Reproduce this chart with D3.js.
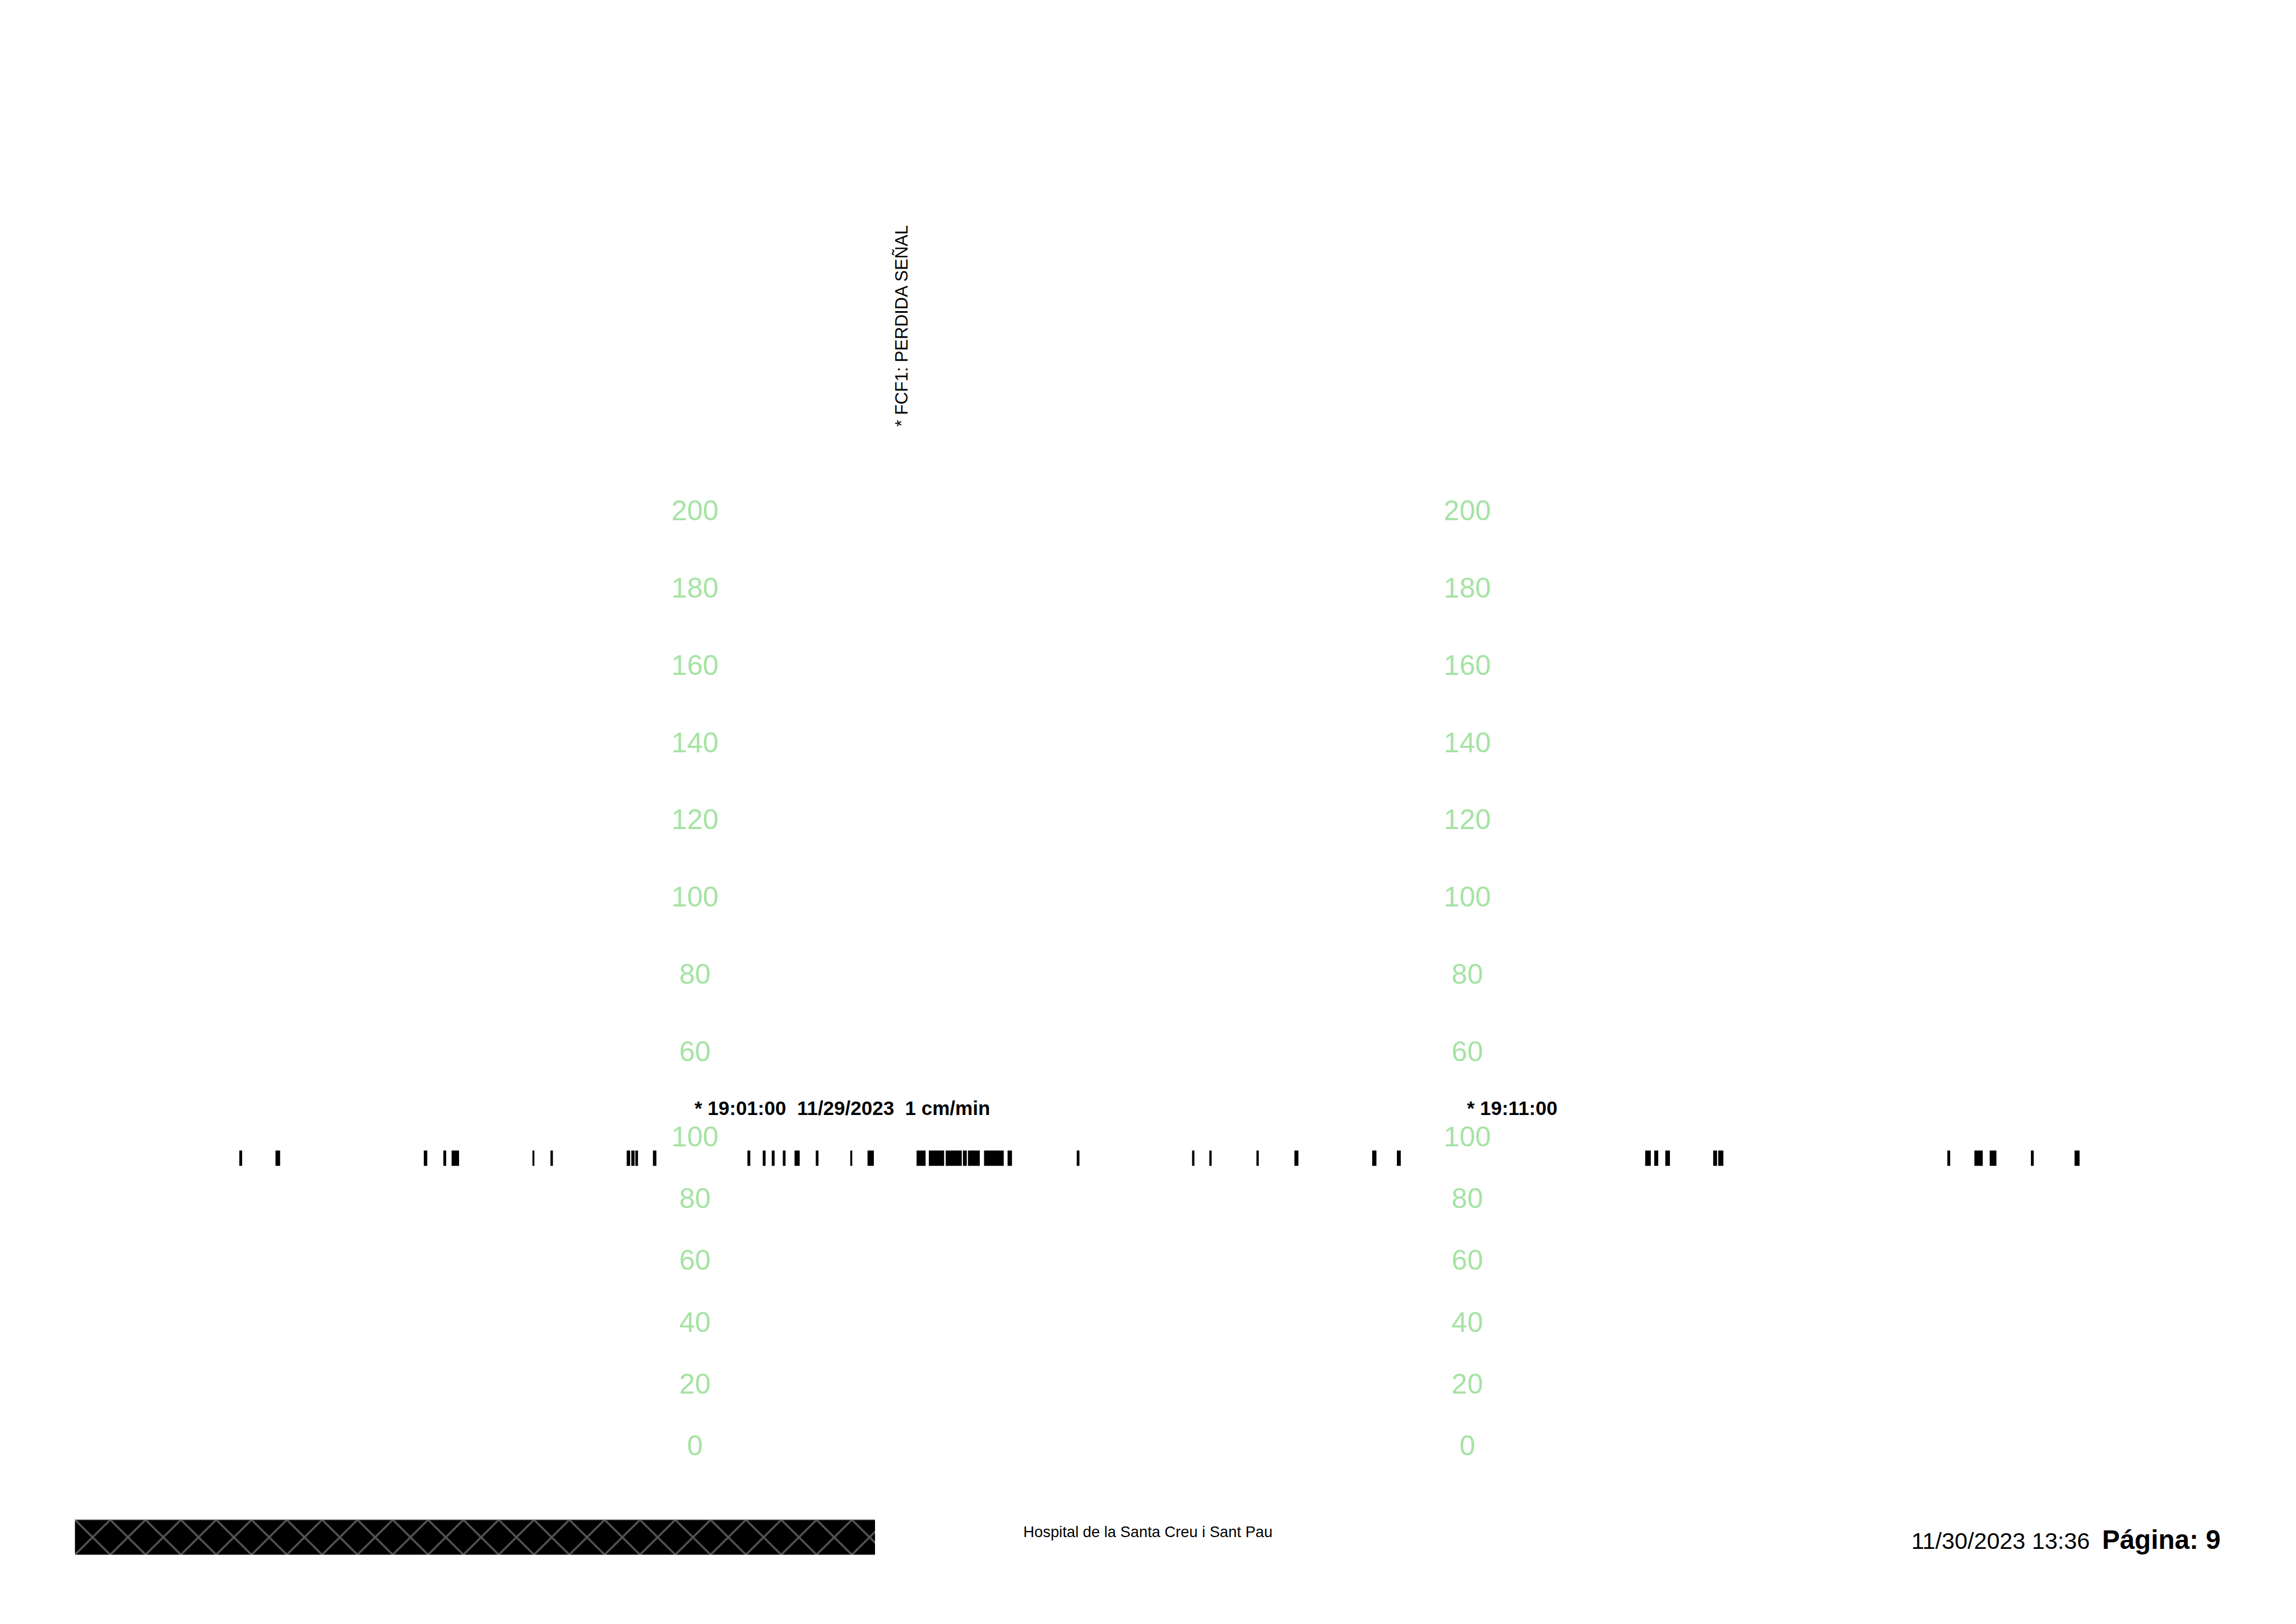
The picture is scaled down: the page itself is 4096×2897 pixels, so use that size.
<!DOCTYPE html>
<html>
<head>
<meta charset="utf-8">
<script src="https://cdn.jsdelivr.net/npm/d3@7"></script>
<style>
  html, body { margin: 0; padding: 0; background: #fff; }
  svg { display: block; }
</style>
</head>
<body>
<script>
// ---------------- DATA ----------------
// Time is in seconds relative to 19:01:00 (paper speed 1 cm/min)
const axisTimes = [0, 600];                       // 19:01:00, 19:11:00
const timeLabels = ["* 19:01:00\u00a0 11/29/2023\u00a0 1 cm/min", "* 19:11:00"];
const upperTicks = [60, 80, 100, 120, 140, 160, 180, 200];   // FHR (bpm)
const lowerTicks = [0, 20, 40, 60, 80, 100];                 // UA
const lossStart = [-353.6, -325.5, -210.3, -195.1, -188.7, -125.9, -111.9, -52.7, -49.1, -46.0, -32.3,
  41.1, 53.0, 60.0, 68.6, 77.7, 94.2, 121.0, 134.4, 172.5, 182.0, 195.1, 208.5, 212.4, 224.9, 243.2,
  296.9, 386.5, 399.9, 436.5, 466.0, 526.4, 545.6, 738.5, 745.5, 754.1, 791.3, 795.2, 973.2, 994.2,
  1006.1, 1038.1, 1072.0];
const lossEnd = [-351.4, -321.9, -207.6, -192.9, -182.9, -124.4, -110.0, -50.0, -46.6, -43.9, -29.6,
  43.3, 55.2, 62.2, 70.7, 81.7, 96.3, 122.5, 139.3, 179.5, 193.9, 207.6, 211.5, 221.6, 240.2, 246.6,
  299.0, 388.3, 401.7, 438.3, 469.1, 529.7, 548.6, 742.8, 748.6, 757.7, 794.3, 799.2, 975.4, 1000.7,
  1011.3, 1040.3, 1075.9];
const annotationTimes = [165.5];
const annotationTexts = ["* FCF1: PERDIDA SEÑAL"];
const footerCenter = "Hospital de la Santa Creu i Sant Pau";
const footerDate = "11/30/2023 13:36";
const footerPage = "Página: 9";

// ---------------- DRAW ----------------
const S = 0.7;
const FONT = "'Liberation Sans', Arial, Helvetica, sans-serif";
const GREEN = "#a5e3a3";

const svg = d3.select("body").append("svg")
  .attr("width", 4096).attr("height", 2897);
svg.append("rect").attr("width", 4096).attr("height", 2897).attr("fill", "#fff");
const g = svg.append("g").attr("transform", `scale(${S})`);

const x = d3.scaleLinear().domain([0, 600]).range([1770, 1770 + 10 * 196.85]);
const yUpper = d3.scaleLinear().domain([60, 200]).range([2678, 1299]);
const yLower = d3.scaleLinear().domain([0, 100]).range([3682, 2895]);

function drawAxis(scale, ticks, xpos) {
  const ax = g.append("g")
    .attr("transform", `translate(${xpos},0)`)
    .call(d3.axisLeft(scale).tickValues(ticks).tickSize(0).tickPadding(0).tickFormat(d3.format("d")));
  ax.select(".domain").remove();
  ax.attr("font-family", FONT).attr("font-size", 72);
  ax.selectAll("text")
    .attr("x", 0).attr("dy", "0.36em")
    .attr("text-anchor", "middle")
    .attr("fill", GREEN);
}
axisTimes.forEach(t => {
  drawAxis(yUpper, upperTicks, x(t) + 1);
  drawAxis(yLower, lowerTicks, x(t) + 1);
});

// time labels
g.selectAll("text.tlabel").data(axisTimes).enter().append("text")
  .attr("class", "tlabel")
  .attr("x", d => x(d)).attr("y", 2842)
  .attr("font-family", FONT).attr("font-weight", "bold").attr("font-size", 50)
  .attr("fill", "#000")
  .text((d, i) => timeLabels[i]);

// signal-loss bars
const bars = lossStart.map((s, i) => ({ s, e: lossEnd[i] }));
g.selectAll("rect.loss").data(bars).enter().append("rect")
  .attr("class", "loss")
  .attr("x", d => x(d.s)).attr("width", d => Math.max(1, x(d.e) - x(d.s)))
  .attr("y", 2932).attr("height", 39)
  .attr("fill", "#000");

// annotation (rotated)
g.selectAll("text.annot").data(annotationTimes).enter().append("text")
  .attr("class", "annot")
  .attr("transform", d => `translate(${x(d)},1087) rotate(-90)`)
  .attr("font-family", FONT).attr("font-size", 44).attr("fill", "#000")
  .text((d, i) => annotationTexts[i]);

// footer hatched bar
const defs = svg.append("defs");
const pat = defs.append("pattern").attr("id", "hatch")
  .attr("patternUnits", "userSpaceOnUse")
  .attr("x", 191).attr("y", 3873).attr("width", 90).attr("height", 89);
pat.append("rect").attr("width", 90).attr("height", 89).attr("fill", "#000");
pat.append("path").attr("d", "M0,0L90,89M90,0L0,89M-90,0L0,89M180,0L90,89")
  .attr("stroke", "#555").attr("stroke-width", 5).attr("fill", "none");
g.append("rect").attr("x", 191).attr("y", 3873).attr("width", 2039).attr("height", 89)
  .attr("fill", "url(#hatch)");
g.append("line").attr("x1", 191).attr("x2", 2230).attr("y1", 3873).attr("y2", 3873)
  .attr("stroke", "#777").attr("stroke-width", 2);

// footer texts
g.append("text").attr("x", 2608).attr("y", 3917)
  .attr("font-family", FONT).attr("font-size", 39).attr("fill", "#000").text(footerCenter);
g.append("text").attr("x", 4871).attr("y", 3947)
  .attr("font-family", FONT).attr("font-size", 59).attr("fill", "#000").text(footerDate);
g.append("text").attr("x", 5357).attr("y", 3947)
  .attr("font-family", FONT).attr("font-weight", "bold").attr("font-size", 68).attr("fill", "#000").text(footerPage);
</script>
</body>
</html>
